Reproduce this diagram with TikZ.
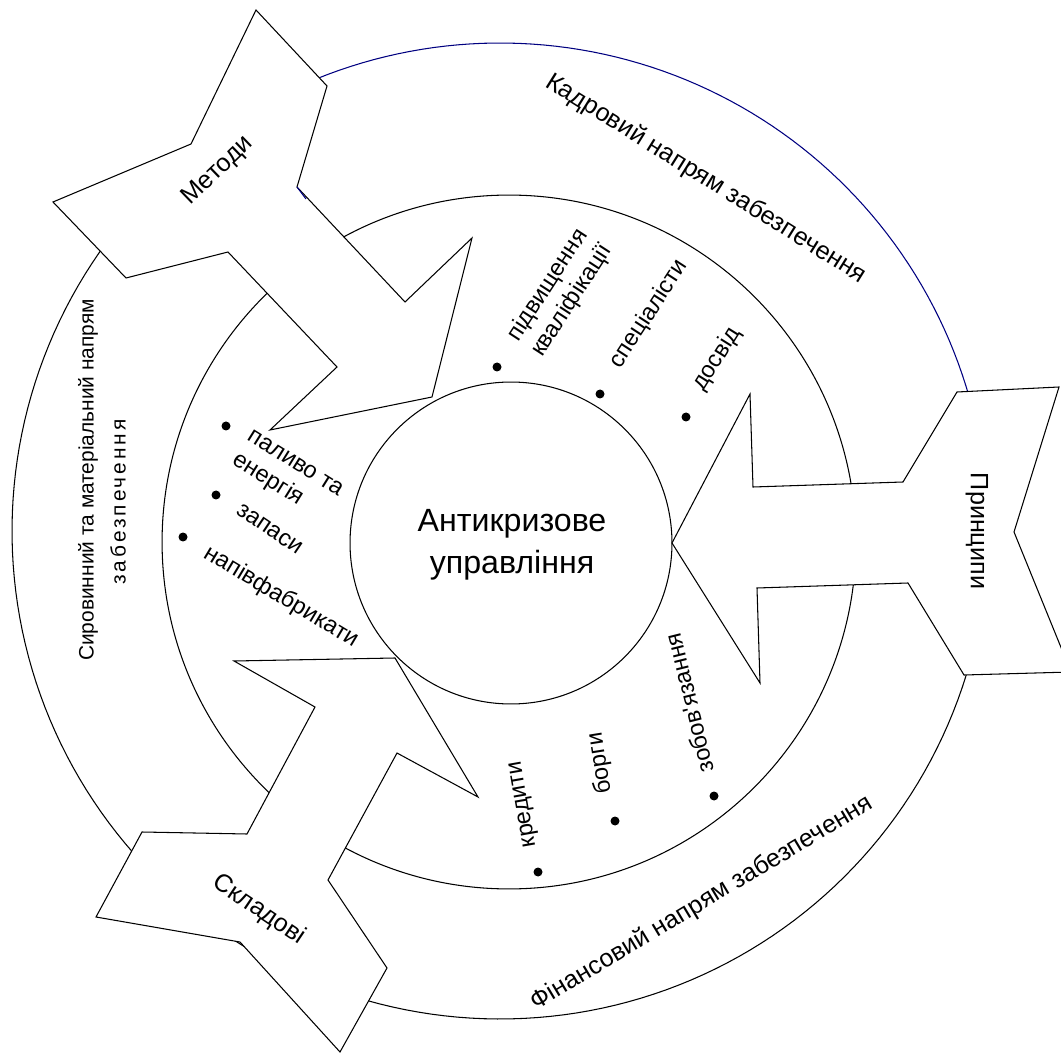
\documentclass[tikz,border=0pt]{standalone}
\usepackage{fontspec}
\setmainfont{Liberation Sans}
\definecolor{arcblue}{RGB}{0,0,128}
\begin{document}
\begin{tikzpicture}[x=0.02cm,y=-0.02cm, line width=0.6pt,
  arrowshape/.style={draw=black, fill=white, line join=miter},
  lbl/.style={inner sep=0pt, font=\fontsize{14.3}{17}\selectfont},
  sirlbl/.style={inner sep=0pt, font=\fontsize{11.9}{14}\selectfont},
  item/.style={inner sep=0pt, align=left, font=\fontsize{13.4}{16.4}\selectfont},
  centre/.style={inner sep=0pt, align=center, font=\fontsize{18.3}{23.8}\selectfont},
  bullet/.style={fill=black}]
\useasboundingbox (0,0) rectangle (1061,1053);
\clip (0,0) rectangle (1061,1053);

% outer ring
\draw[black] plot[domain=0:232, samples=150] ({500+488*cos(\x)},{531+488*sin(\x)});
\draw[arcblue] plot[domain=-128:0, samples=90] ({500+488*cos(\x)},{531+488*sin(\x)});
% middle and inner rings
\draw (509,542) circle[radius=6.94cm];
\draw[fill=white] (511,543) circle[radius=3.22cm];

% arrows
\draw[arrowshape] (256,10) -- (327,86) -- (297,187) -- (405,302) -- (472,238) -- (432,397)
  -- (270,430) -- (337,367) -- (228,252) -- (126,278) -- (53,202) -- (191,144) -- cycle;
\draw[arrowshape] (957,392) -- (1059,387) -- (1014,532) -- (1071,672) -- (964,675) -- (908,583)
  -- (757,588) -- (760,683) -- (672,543) -- (750,394) -- (753,487) -- (903,482) -- cycle;
\draw[arrowshape] (142,832) -- (247,834) -- (315,707) -- (234,661) -- (395,658) -- (478,797)
  -- (397,753) -- (328,880) -- (387,968) -- (340,1052) -- (240,942) -- (96,917) -- cycle;
\draw[arcblue] (297,187) -- (306,199);

% labels
\node[centre] (anti) at (512,545) {Антикризове\\управління};
\node[lbl, rotate=44] (metody) at (218,171) {Методи};
\node[lbl, rotate=-32] (kadr) at (706,179) {Кадровий напрям забезпечення};
\node[lbl, rotate=-90] (pryn) at (977,531) {Принципи};
\node[lbl, rotate=31] (fin) at (702,903) {Фінансовий напрям забезпечення};
\node[lbl, rotate=-34] (skl) at (259,910) {Складові};
\node[sirlbl, rotate=90] (syr1) at (88,480) {Сировинний та матеріальний напрям};
\node[sirlbl, rotate=90] (syr2) at (118,502) {\addfontfeature{LetterSpace=14}забезпечення};

% items
\node[item, rotate=57] (pidv) at (560,293) {підвищення\\кваліфікації};
\node[item, rotate=57] (spec) at (649,314) {спеціалісти};
\node[item, rotate=58] (dosv) at (717,359) {досвід};
\node[item, rotate=-32] (pal) at (287,477) {паливо та\\енергія};
\node[item, rotate=-34] (zap) at (270,529) {запаси};
\node[item, rotate=-31] (napf) at (281,597) {напівфабрикати};
\node[item, rotate=100] (kred) at (524,804) {кредити};
\node[item, rotate=99] (borg) at (600,763) {борги};
\node[item, rotate=104] (zob) at (689,703) {зобов\textquotesingle язання};

% bullets
\foreach \p in {(497,367),(600,394),(686,417),(226,426),(216,495),(183,537),(538,872),(615,821),(714,796)}
  \fill[bullet] \p circle[radius=0.09cm];
\end{tikzpicture}
\end{document}
